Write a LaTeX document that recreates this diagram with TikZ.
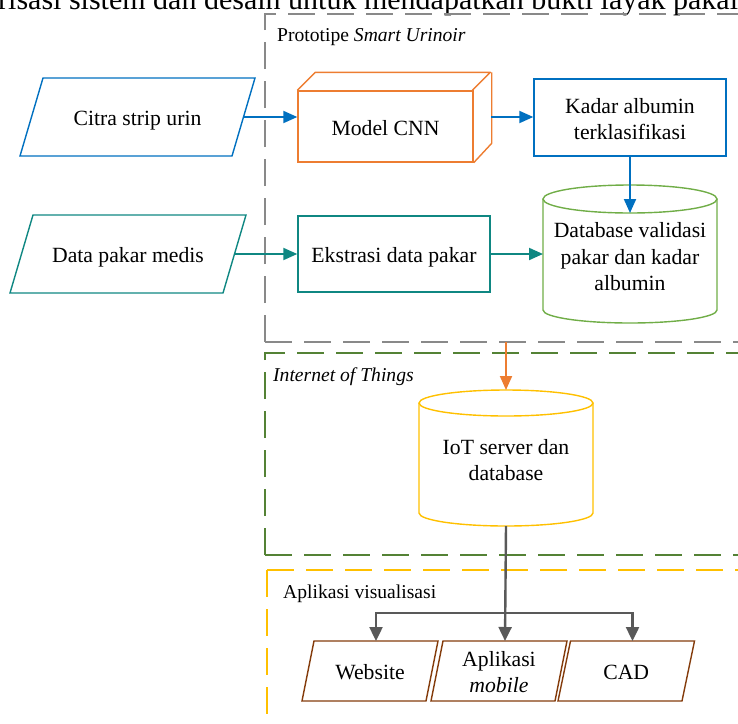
\documentclass[tikz,border=0pt]{standalone}
\usepackage{fontspec}
\setmainfont{Liberation Serif}
\usetikzlibrary{arrows.meta,calc}

\definecolor{cblue}{HTML}{0070C0}
\definecolor{corange}{HTML}{ED7D31}
\definecolor{cteal}{HTML}{0F8782}
\definecolor{cgreen}{HTML}{70AD47}
\definecolor{cyellow}{HTML}{FFC000}
\definecolor{cbrown}{HTML}{843C0C}
\definecolor{cdark}{HTML}{595959}
\definecolor{cframegray}{HTML}{898989}
\definecolor{cframegreen}{HTML}{548235}

\tikzset{
  lbl/.style={font=\fontsize{21.7}{26.5}\selectfont, align=center, inner sep=0pt},
  boxline/.style={line width=1.4pt},
  rectbox/.style={boxline, inner sep=0pt},
  flow/.style={line width=2pt, -{Triangle[length=14pt,width=12pt]}},
  tree/.style={line width=2.4pt, cdark, -{Triangle[length=14pt,width=13pt]}},
  framelbl/.style={font=\fontsize{19.6}{24}\selectfont, anchor=base west, inner sep=0pt},
  framedash/.style={line width=1.6pt, dash pattern=on 27pt off 12pt},
}

% parallelogram: name, cx, cy, half width, half height, slant, colour, text, text y offset
\newcommand\parabox[9]{%
  \coordinate (#1) at (#2,#3);
  \node[lbl] (#1-t) at ($(#1)+(0,#9)$) {#8};
  \draw[boxline,#7] ($(#1)+(-#4+#6,-#5)$) -- ($(#1)+(#4+#6,-#5)$)
    -- ($(#1)+(#4-#6,#5)$) -- ($(#1)+(-#4-#6,#5)$) -- cycle;
  \coordinate (#1-e) at ($(#1)+(#4,0)$);
  \coordinate (#1-n) at ($(#1)+(#6,-#5)$);
}

\begin{document}
\begin{tikzpicture}[x=1pt,y=-1pt]
\useasboundingbox (0,0) rectangle (738,723);
\clip (0,0) rectangle (738,723);

% running text above the figure
\node[anchor=base west, inner sep=0pt, font=\fontsize{30}{36}\selectfont] (caption) at (-2,9.5)
  {risasi sistem dan desain untuk mendapatkan bukti layak pakai};

% dashed group frames
\draw[framedash, cframegray] (265,342) -- (265,14) -- (760,14);
\draw[framedash, cframegray] (265,342) -- (760,342);
\draw[framedash, cframegreen] (265,555) -- (265,353) -- (760,353);
\draw[framedash, cframegreen] (265,555) -- (760,555);
\draw[framedash, cyellow] (267,570) -- (267,740);
\draw[framedash, cyellow] (267,570) -- (760,570);

\node[framelbl] (lproto) at (277,41) {Prototipe \textit{Smart Urinoir}};
\node[framelbl] (liot) at (273,381) {\textit{Internet of Things}};
\node[framelbl] (lapp) at (283,598) {Aplikasi visualisasi};

% inputs
\parabox{citra}{137.5}{117}{106}{39}{11.5}{cblue}{Citra strip urin}{4}
\parabox{data}{128}{254}{106.5}{39}{11.5}{cteal}{Data pakar medis}{3}

% CNN model as a box in perspective
\node[rectbox, draw=corange, minimum width=175, minimum height=71] (cnn) at (385.5,126.5) {};
\node[lbl] (cnn-t) at (385.5,128.5) {Model CNN};
\draw[boxline, corange, line join=round] (cnn.north west) -- ++(18,-18) -- ++(175,0) -- ++(-18,18);
\draw[boxline, corange, line join=round] ($(cnn.north east)+(18,-18)$) -- ++(0,71) -- (cnn.south east);
\coordinate (cnnback) at (491,117);

\node[rectbox, draw=cblue, minimum width=192, minimum height=77] (kadar) at (630,117.5) {};
\node[lbl] (kadar-t) at (630,119) {Kadar albumin\\terklasifikasi};
\node[rectbox, draw=cteal, minimum width=192, minimum height=76] (eks) at (394,254) {};
\node[lbl] (eks-t) at (394,257) {Ekstrasi data pakar};

% validation database (cylinder)
\node[lbl] (db) at (630,257) {Database validasi\\pakar dan kadar\\albumin};
\draw[boxline, cgreen] (630,199) ellipse (87 and 14);
\draw[boxline, cgreen] (543,199) -- (543,310)
  .. controls (543,317.2) and (581.95,323) .. (630,323)
  .. controls (678.05,323) and (717,317.2) .. (717,310) -- (717,199);
\coordinate (dbtop) at (630,213);
\coordinate (dbw) at (543,256);

% IoT server (cylinder)
\node[lbl] (iot) at (506,460) {IoT server dan\\database};
\draw[boxline, cyellow] (506,403) ellipse (87 and 13);
\draw[boxline, cyellow] (419,403) -- (419,513)
  .. controls (419,520.2) and (457.95,526) .. (506,526)
  .. controls (554.05,526) and (593,520.2) .. (593,513) -- (593,403);
\coordinate (iottop) at (506,390);
\coordinate (iotbot) at (506,526);

% visualisation outputs
\parabox{web}{370}{671}{62}{30}{6}{cbrown}{Website}{1}
\parabox{mob}{499}{671}{62}{30}{6}{cbrown}{Aplikasi\\\textit{mobile}}{1}
\parabox{cad}{626.25}{671}{62}{30}{6.25}{cbrown}{CAD}{1}

% connectors
\draw[flow, cblue] (citra-e) -- (citra-e -| cnn.west);
\draw[flow, cblue] (cnnback) -- (cnnback -| kadar.west);
\draw[flow, cblue] (kadar.south) -- (dbtop);
\draw[flow, cteal] (data-e) -- (data-e -| eks.west);
\draw[flow, cteal] (eks.east) -- (eks.east -| dbw);

\coordinate (protobottom) at (506,342);
\draw[flow, corange] (protobottom) -- (iottop);

\coordinate (split) at (506,613);
\draw[tree] (iotbot) -- (mob-n);
\draw[tree] (split) -| (web-n);
\draw[tree] (split) -| (cad-n);
\end{tikzpicture}
\end{document}
